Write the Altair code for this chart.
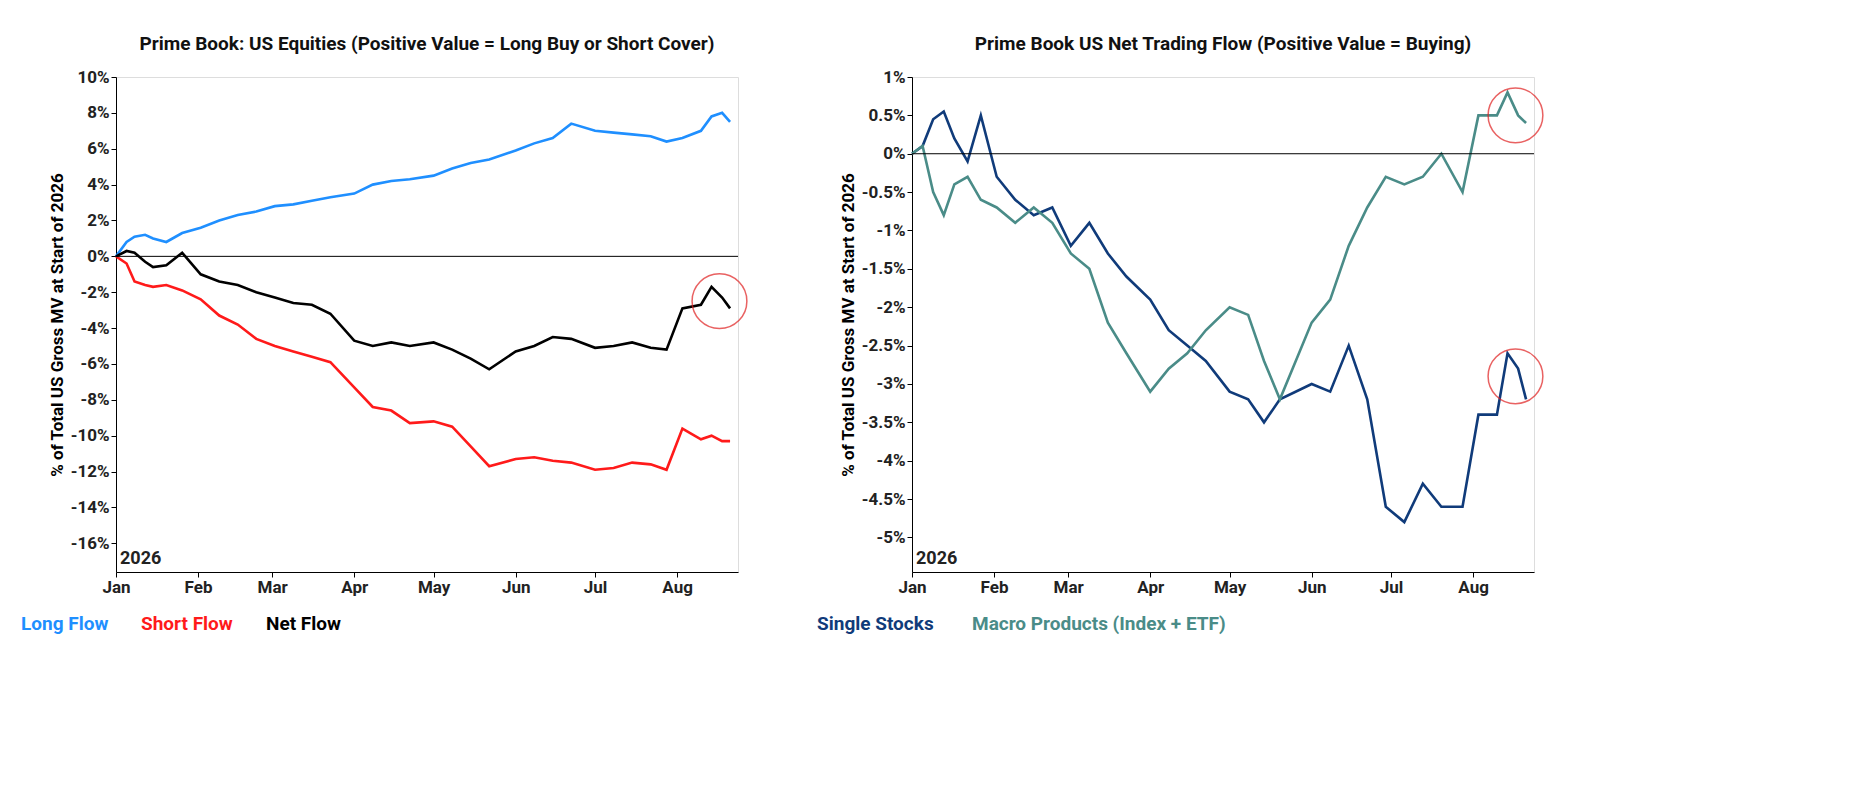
import pandas as pd
import altair as alt

FONT = "Roboto"

# Left panel: Prime Book US equities flows (% of gross MV)
left_dates = ["2026-01-01", "2026-01-05", "2026-01-08", "2026-01-12", "2026-01-15", "2026-01-20", "2026-01-26",
              "2026-02-02", "2026-02-09", "2026-02-16", "2026-02-23", "2026-03-02", "2026-03-09", "2026-03-16",
              "2026-03-23", "2026-04-01", "2026-04-08", "2026-04-15", "2026-04-22", "2026-05-01", "2026-05-08",
              "2026-05-15", "2026-05-22", "2026-06-01", "2026-06-08", "2026-06-15", "2026-06-22", "2026-07-01",
              "2026-07-08", "2026-07-15", "2026-07-22", "2026-07-28", "2026-08-03", "2026-08-10", "2026-08-14",
              "2026-08-18", "2026-08-21"]
long_flow = [0.0, 0.8, 1.1, 1.2, 1.0, 0.8, 1.3, 1.6, 2.0, 2.3, 2.5, 2.8, 2.9, 3.1, 3.3, 3.5, 4.0, 4.2, 4.3,
             4.5, 4.9, 5.2, 5.4, 5.9, 6.3, 6.6, 7.4, 7.0, 6.9, 6.8, 6.7, 6.4, 6.6, 7.0, 7.8, 8.0, 7.5]
short_flow = [0.0, -0.4, -1.4, -1.6, -1.7, -1.6, -1.9, -2.4, -3.3, -3.8, -4.6, -5.0, -5.3, -5.6, -5.9, -7.3,
              -8.4, -8.6, -9.3, -9.2, -9.5, -10.6, -11.7, -11.3, -11.2, -11.4, -11.5, -11.9, -11.8, -11.5,
              -11.6, -11.9, -9.6, -10.2, -10.0, -10.3, -10.3]
net_flow = [0.0, 0.3, 0.2, -0.3, -0.6, -0.5, 0.2, -1.0, -1.4, -1.6, -2.0, -2.3, -2.6, -2.7, -3.2, -4.7,
            -5.0, -4.8, -5.0, -4.8, -5.2, -5.7, -6.3, -5.3, -5.0, -4.5, -4.6, -5.1, -5.0, -4.8, -5.1, -5.2,
            -2.9, -2.7, -1.7, -2.3, -2.9]

# Right panel: net trading flow by product
right_dates = ["2026-01-01", "2026-01-05", "2026-01-09", "2026-01-13", "2026-01-17", "2026-01-22", "2026-01-27",
               "2026-02-02", "2026-02-09", "2026-02-16", "2026-02-23", "2026-03-02", "2026-03-09", "2026-03-16",
               "2026-03-23", "2026-04-01", "2026-04-08", "2026-04-15", "2026-04-22", "2026-05-01", "2026-05-08",
               "2026-05-14", "2026-05-20", "2026-06-01", "2026-06-08", "2026-06-15", "2026-06-22", "2026-06-29",
               "2026-07-06", "2026-07-13", "2026-07-20", "2026-07-28", "2026-08-03", "2026-08-10", "2026-08-14",
               "2026-08-18", "2026-08-21"]
single_stocks = [0.0, 0.1, 0.45, 0.55, 0.2, -0.1, 0.5, -0.3, -0.6, -0.8, -0.7, -1.2, -0.9, -1.3, -1.6, -1.9,
                 -2.3, -2.5, -2.7, -3.1, -3.2, -3.5, -3.2, -3.0, -3.1, -2.5, -3.2, -4.6, -4.8, -4.3, -4.6,
                 -4.6, -3.4, -3.4, -2.6, -2.8, -3.2]
macro_products = [0.0, 0.1, -0.5, -0.8, -0.4, -0.3, -0.6, -0.7, -0.9, -0.7, -0.9, -1.3, -1.5, -2.2, -2.6,
                  -3.1, -2.8, -2.6, -2.3, -2.0, -2.1, -2.7, -3.2, -2.2, -1.9, -1.2, -0.7, -0.3, -0.4, -0.3,
                  0.0, -0.5, 0.5, 0.5, 0.8, 0.5, 0.4]

left_names = ["Long Flow", "Short Flow", "Net Flow"]
left_colors = ["#1f8fff", "#ff1a1a", "#000000"]
right_names = ["Single Stocks", "Macro Products (Index + ETF)"]
right_colors = ["#103b7a", "#4a8c88"]

W, H = 622, 495
x_dom = [pd.Timestamp("2026-01-01").value / 1e6, pd.Timestamp("2026-08-24").value / 1e6]


def long_frame(dates, series, names):
    rows = []
    for name, vals in zip(names, series):
        for d, v in zip(dates, vals):
            rows.append({"date": d, "series": name, "value": v})
    return pd.DataFrame(rows)


def panel(df, names, colors, title, y_dom, y_ticks, circles, legend_x):
    x = alt.X("date:T", scale=alt.Scale(domain=x_dom), title=None,
              axis=alt.Axis(format="%b", tickCount="month", grid=False, labelFontSize=17,
                            labelFont=FONT, labelFontWeight="bold", labelColor="#222",
                            domainColor="#000", tickColor="#000", labelAlign="center"))
    y = alt.Y("value:Q", scale=alt.Scale(domain=y_dom, nice=False),
              title="% of Total US Gross MV at Start of 2026",
              axis=alt.Axis(values=y_ticks, labelExpr="datum.value + '%'", grid=False, labelFontSize=17,
                            labelOverlap=False, labelFont=FONT, labelFontWeight="bold", labelColor="#222",
                            titleFont=FONT, titleFontSize=17, titleFontWeight="bold",
                            domainColor="#000", tickColor="#000"))
    lines = alt.Chart(df).mark_line(strokeWidth=2.6).encode(
        x=x, y=y,
        color=alt.Color("series:N", scale=alt.Scale(domain=names, range=colors), legend=None),
    )
    zero = alt.Chart(pd.DataFrame({"value": [0]})).mark_rule(color="#000", strokeWidth=1).encode(y=y)
    circ = alt.Chart(pd.DataFrame(circles)).mark_point(
        shape="circle", size=3000, color="#e02020", strokeWidth=1.5, filled=False
    ).encode(x=x, y=y)
    year = alt.Chart(pd.DataFrame({"t": ["2026"]})).mark_text(
        align="left", baseline="bottom", font=FONT, fontSize=18, fontWeight="bold", color="#222"
    ).encode(x=alt.value(4), y=alt.value(H - 4), text="t:N")
    leg_df = pd.DataFrame({"t": names, "px": legend_x, "c": colors})
    leg = alt.Chart(leg_df).mark_text(
        align="left", baseline="middle", font=FONT, fontSize=19, fontWeight="bold"
    ).encode(x=alt.X("px:Q", scale=None), y=alt.value(H + 52), text="t:N",
             color=alt.Color("c:N", scale=None))
    return alt.layer(lines, zero, circ, year, leg).resolve_scale(color="independent").properties(
        width=W, height=H,
        title=alt.TitleParams(title, font=FONT, fontSize=19, fontWeight="bold", color="#111", offset=14),
    )


left_df = long_frame(left_dates, [long_flow, short_flow, net_flow], left_names)
right_df = long_frame(right_dates, [single_stocks, macro_products], right_names)

left = panel(left_df, left_names, left_colors,
             "Prime Book: US Equities (Positive Value = Long Buy or Short Cover)",
             [-17.6, 10], list(range(-16, 11, 2)),
             {"date": ["2026-08-17"], "value": [-2.5]}, [-95, 25, 150])
right = panel(right_df, right_names, right_colors,
              "Prime Book US Net Trading Flow (Positive Value = Buying)",
              [-5.45, 1], [v / 2 for v in range(-10, 3)],
              {"date": ["2026-08-17", "2026-08-17"], "value": [0.5, -2.9]}, [-95, 60])

chart = alt.hconcat(left, right, spacing=65).resolve_scale(color="independent").configure_view(
    stroke="#000", strokeWidth=1
).configure(background="white", padding={"left": 12, "top": 26, "right": 5, "bottom": 5})

chart.save("out.html", embed_options={"renderer": "svg", "actions": False})
